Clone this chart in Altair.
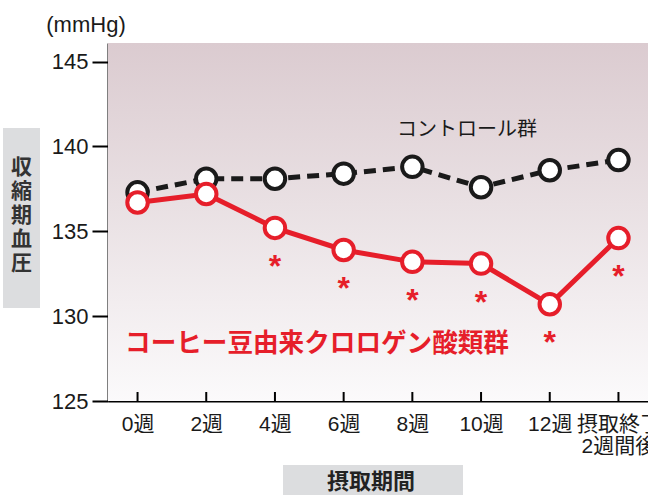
import altair as alt
import pandas as pd

# Systolic blood pressure (mmHg) over the intake period
weeks = ["0週", "2週", "4週", "6週", "8週", "10週", "12週", "摂取終了\n2週間後"]
control = [137.3, 138.1, 138.1, 138.4, 138.8, 137.6, 138.6, 139.2]
cga = [136.7, 137.2, 135.2, 133.9, 133.2, 133.1, 130.7, 134.6]
significant = [False, False, True, True, True, True, True, True]

y_ticks = [125, 130, 135, 140, 145]

W, H = 540, 358
RED = "#e61e2a"
INK = "#1a1a1a"
FONT = "Liberation Sans, Noto Sans CJK JP"
JP = "Noto Sans CJK JP"

df = pd.DataFrame({"week": weeks, "control": control, "cga": cga, "sig": significant})
one = pd.DataFrame({"k": [0]})

x_enc = alt.X(
    "week:N",
    sort=weeks,
    scale=alt.Scale(type="point", padding=0.43),
    axis=alt.Axis(
        title=None,
        labelAngle=0,
        ticks=False,
        domainColor="black",
        domainWidth=2,
        labelFont=FONT,
        labelFontSize=21,
        labelColor=INK,
        labelPadding=12,
        labelLineHeight=22,
        labelBaseline="top",
        labelOverlap=False,
        labelBound=False,
        labelFlush=False,
        labelExpr="split(datum.label, '\\n')",
    ),
)

y_scale = alt.Scale(domain=[125, 146.1], nice=False, zero=False)
y_axis = alt.Axis(
    title=None,
    values=y_ticks,
    grid=False,
    domainColor="black",
    domainWidth=2,
    tickColor="black",
    tickWidth=2,
    tickSize=16,
    labelFont=FONT,
    labelFontSize=22,
    labelColor=INK,
    labelPadding=4,
)

# plot background: soft mauve fading to white
background = alt.Chart(one).mark_rect(
    fill=alt.Gradient(
        gradient="linear",
        stops=[
            alt.GradientStop(color="#dbcbd0", offset=0),
            alt.GradientStop(color="#e9e0e3", offset=0.45),
            alt.GradientStop(color="#fbfafb", offset=1),
        ],
        x1=0, x2=0, y1=0, y2=1,
    )
).encode(x=alt.value(0), x2=alt.value(W), y=alt.value(0), y2=alt.value(H))

base = alt.Chart(df)

# inward tick marks on the time axis
x_ticks = base.mark_rule(color="black", strokeWidth=2).encode(
    x=x_enc, y=alt.value(H), y2=alt.value(H - 9)
)

ctrl_line = base.mark_line(color=INK, strokeWidth=5, strokeDash=[12, 7]).encode(
    x=x_enc, y=alt.Y("control:Q", scale=y_scale, axis=y_axis)
)
ctrl_pts = base.mark_point(
    shape="circle", filled=True, fill="white", stroke=INK, strokeWidth=4, size=420, opacity=1
).encode(x=x_enc, y=alt.Y("control:Q", scale=y_scale, axis=y_axis))

cga_line = base.mark_line(color=RED, strokeWidth=5).encode(
    x=x_enc, y=alt.Y("cga:Q", scale=y_scale, axis=y_axis)
)
cga_pts = base.mark_point(
    shape="circle", filled=True, fill="white", stroke=RED, strokeWidth=4, size=420, opacity=1
).encode(x=x_enc, y=alt.Y("cga:Q", scale=y_scale, axis=y_axis))

# significance markers below the intake-group points
stars = base.transform_filter("datum.sig").mark_text(
    text="*", color=RED, font="Liberation Sans", fontSize=32, fontWeight="bold",
    baseline="alphabetic", dy=49
).encode(x=x_enc, y=alt.Y("cga:Q", scale=y_scale, axis=y_axis))

# series labels
ctrl_label = alt.Chart(one).mark_text(
    text="コントロール群", font=JP, fontSize=20, color=INK, baseline="middle", align="center"
).encode(x=alt.value(359), y=alt.value(87))

cga_label = alt.Chart(one).mark_text(
    text="コーヒー豆由来クロロゲン酸類群", font=JP, fontSize=25.6, fontWeight="bold",
    color=RED, baseline="middle", align="center"
).encode(x=alt.value(209), y=alt.value(301))

# unit label above the value axis
unit = alt.Chart(one).mark_text(
    text="(mmHg)", font=FONT, fontSize=22, color=INK, baseline="alphabetic", align="center"
).encode(x=alt.value(-22), y=alt.value(-11))

# value-axis title in a grey box
y_box = alt.Chart(one).mark_rect(color="#dcdddf").encode(
    x=alt.value(-105), x2=alt.value(-68), y=alt.value(85), y2=alt.value(265)
)
y_title = alt.Chart(one).mark_text(
    text=["収", "縮", "期", "血", "圧"], font=JP, fontSize=21, fontWeight="bold",
    color="#333333", baseline="top", align="center", lineHeight=24
).encode(x=alt.value(-86.5), y=alt.value(114))

# time-axis title in a grey box
x_box = alt.Chart(one).mark_rect(color="#dcdddf").encode(
    x=alt.value(175), x2=alt.value(355), y=alt.value(422), y2=alt.value(460)
)
x_title = alt.Chart(one).mark_text(
    text="摂取期間", font=JP, fontSize=22, fontWeight="bold",
    color="#222222", baseline="middle", align="center"
).encode(x=alt.value(263), y=alt.value(439))

chart = alt.layer(
    background, x_ticks, ctrl_line, ctrl_pts, cga_line, cga_pts, stars,
    ctrl_label, cga_label, unit, y_box, y_title, x_box, x_title,
).properties(
    width=W,
    height=H,
    autosize=alt.AutoSizeParams(type="none"),
    padding={"left": 108, "top": 43, "right": 0, "bottom": 94},
    background="white",
).configure_view(strokeWidth=0)

chart.save("out.html", embed_options={"renderer": "svg", "actions": False})
